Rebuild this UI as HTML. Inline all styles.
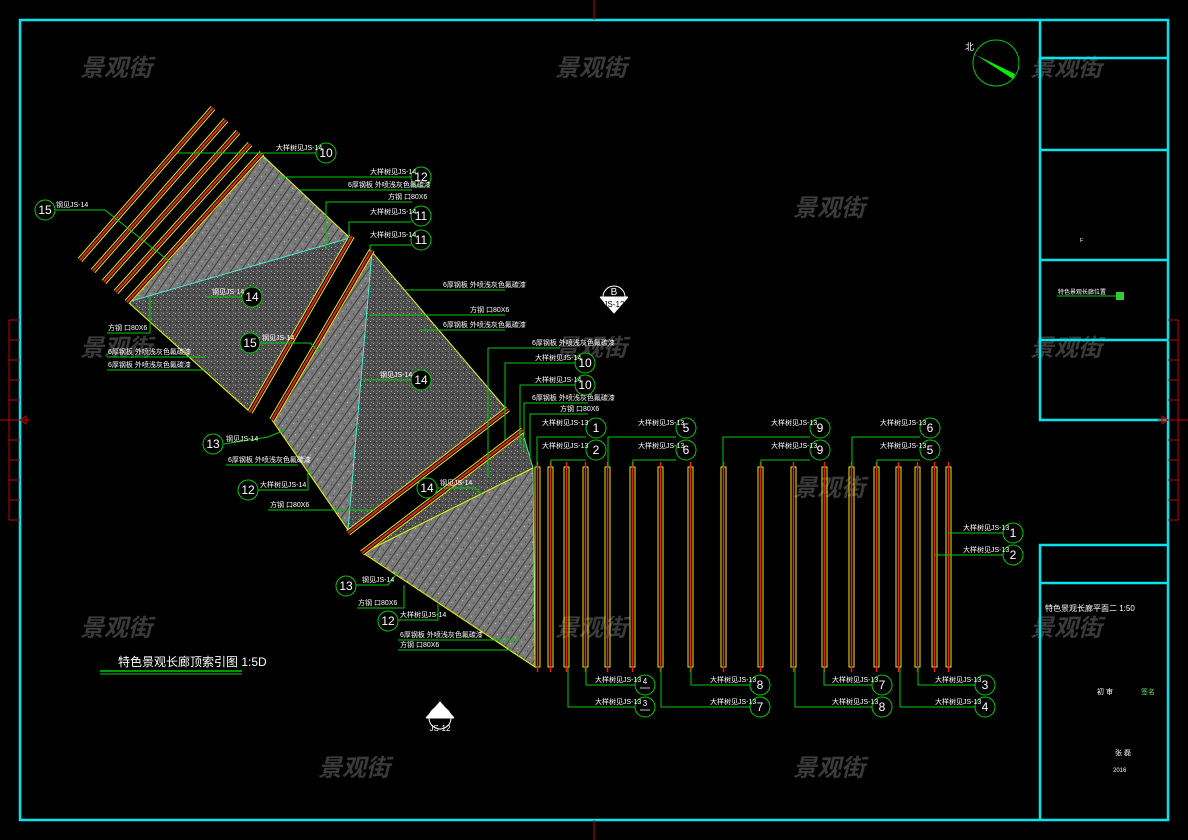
<!DOCTYPE html>
<html><head><meta charset="utf-8"><style>
html,body{margin:0;padding:0;background:#000;}
svg{display:block;}
text{font-family:"Liberation Sans","Noto Sans CJK SC",sans-serif;}
.t{fill:#fff;font-size:7px;}
.n{fill:#fff;font-size:12px;text-anchor:middle;}
.wm{fill:#3a3a3a;font-size:24px;font-style:italic;font-weight:bold;font-family:"Noto Sans CJK SC",sans-serif;}
</style></head><body>
<svg width="1188" height="840" viewBox="0 0 1188 840" xmlns="http://www.w3.org/2000/svg">
<defs>
<pattern id="hat" width="8" height="8" patternUnits="userSpaceOnUse" patternTransform="rotate(35)">
<rect width="8" height="8" fill="#7a7a7a"/><line x1="0" y1="0" x2="0" y2="8" stroke="#2a2a2a" stroke-width="1.5"/>
<rect x="3" y="2" width="1" height="1" fill="#ccc"/><rect x="5" y="6" width="1" height="1" fill="#333"/></pattern>
<pattern id="dot" width="6" height="6" patternUnits="userSpaceOnUse">
<rect width="6" height="6" fill="#4e4e4e"/><rect x="1" y="1" width="1" height="1" fill="#aaa"/><rect x="4" y="3" width="1" height="1" fill="#999"/><rect x="2" y="4" width="1" height="1" fill="#222"/><rect x="5" y="0" width="1" height="1" fill="#888"/></pattern>
</defs>
<rect width="1188" height="840" fill="#000"/>
<!-- watermarks -->
<g class="wm">
<text x="80" y="76">景观街</text><text x="555" y="76">景观街</text><text x="1030" y="76">景观街</text>
<text x="793" y="216">景观街</text><text x="80" y="356">景观街</text><text x="555" y="356">景观街</text><text x="1030" y="356">景观街</text>
<text x="793" y="496">景观街</text><text x="80" y="636">景观街</text><text x="555" y="636">景观街</text><text x="1030" y="636">景观街</text>
<text x="318" y="776">景观街</text><text x="793" y="776">景观街</text>
</g>
<!-- frame -->
<g stroke="#00e5ee" stroke-width="2.5" fill="none">
<rect x="20" y="20" width="1148" height="800"/>
<polyline points="1040,20 1040,420 1168,420"/>
<line x1="1040" y1="58" x2="1168" y2="58"/><line x1="1040" y1="150" x2="1168" y2="150"/>
<line x1="1040" y1="260" x2="1168" y2="260"/><line x1="1040" y1="340" x2="1168" y2="340"/>
<polyline points="1168,545 1040,545 1040,820"/><line x1="1040" y1="583" x2="1168" y2="583"/>
</g>
<!-- red ticks -->
<g stroke="#c00" stroke-width="1" fill="none">
<line x1="9" y1="320" x2="9" y2="520"/><line x1="1178" y1="320" x2="1178" y2="520"/>
<path d="M9 320h11M9 340h11M9 360h11M9 380h11M9 400h11M9 440h11M9 460h11M9 480h11M9 500h11M9 520h11M0 420h30"/>
<path d="M1168 320h10M1168 340h10M1168 360h10M1168 380h10M1168 400h10M1168 440h10M1168 460h10M1168 480h10M1168 500h10M1168 520h10M1158 420h30"/>
<line x1="594" y1="0" x2="594" y2="20"/><line x1="594" y1="820" x2="594" y2="840"/>
<path d="M20 420l6-4v8z"/><path d="M1168 420l-6-4v8z"/>
</g>
<!-- panels -->
<g stroke="#4fd" stroke-width="0.8">
<polygon points="262,155 350,238 128,302" fill="url(#hat)"/>
<polygon points="128,302 350,238 250,412" fill="url(#dot)"/>
<polygon points="372,252 272,420 348,530" fill="url(#hat)"/>
<polygon points="372,252 507,410 348,530" fill="url(#dot)"/>
<polygon points="363,553 522,430 533,468" fill="url(#dot)"/>
<polygon points="363,553 533,468 535,667" fill="url(#hat)"/>
</g>
<g stroke="#ee0" stroke-width="1" fill="none">
<polyline points="262,155 350,238"/><polyline points="128,302 250,412"/>
<polyline points="372,252 507,410"/><polyline points="272,420 348,530"/>
<polyline points="363,553 533,468"/><polyline points="363,553 535,667"/>
</g>
<!-- beams -->
<g stroke-linecap="butt">
<g stroke="#ee0" stroke-width="6">
<line x1="80" y1="260" x2="213" y2="108"/><line x1="93" y1="271" x2="226" y2="120"/><line x1="104" y1="282" x2="238" y2="132"/><line x1="116" y1="292" x2="250" y2="144"/><line x1="127" y1="302" x2="262" y2="153"/>
<line x1="250" y1="412" x2="352" y2="236"/><line x1="272" y1="420" x2="372" y2="250"/>
<line x1="348" y1="533" x2="508" y2="409"/><line x1="362" y1="553" x2="523" y2="430"/>
</g>
<g stroke="#000" stroke-width="4">
<line x1="80" y1="260" x2="213" y2="108"/><line x1="93" y1="271" x2="226" y2="120"/><line x1="104" y1="282" x2="238" y2="132"/><line x1="116" y1="292" x2="250" y2="144"/><line x1="127" y1="302" x2="262" y2="153"/>
<line x1="250" y1="412" x2="352" y2="236"/><line x1="272" y1="420" x2="372" y2="250"/>
<line x1="348" y1="533" x2="508" y2="409"/><line x1="362" y1="553" x2="523" y2="430"/>
</g>
<g stroke="#d22" stroke-width="2">
<line x1="80" y1="260" x2="213" y2="108"/><line x1="93" y1="271" x2="226" y2="120"/><line x1="104" y1="282" x2="238" y2="132"/><line x1="116" y1="292" x2="250" y2="144"/><line x1="127" y1="302" x2="262" y2="153"/>
<line x1="250" y1="412" x2="352" y2="236"/><line x1="272" y1="420" x2="372" y2="250"/>
<line x1="348" y1="533" x2="508" y2="409"/><line x1="362" y1="553" x2="523" y2="430"/>
</g>
</g>
<!-- vertical bars -->
<g id="bars">
<g fill="none" stroke="#ee0" stroke-width="1">
<rect x="535" y="467" width="5" height="200"/><rect x="548" y="467" width="5" height="200"/><rect x="564" y="467" width="5" height="200"/><rect x="583" y="467" width="5" height="200"/><rect x="605" y="467" width="5" height="200"/><rect x="630" y="467" width="5" height="200"/><rect x="658" y="467" width="5" height="200"/><rect x="688" y="467" width="5" height="200"/><rect x="721" y="467" width="5" height="200"/><rect x="758" y="467" width="5" height="200"/><rect x="791" y="467" width="5" height="200"/><rect x="822" y="467" width="5" height="200"/><rect x="849" y="467" width="5" height="200"/><rect x="874" y="467" width="5" height="200"/><rect x="896" y="467" width="5" height="200"/><rect x="915" y="467" width="5" height="200"/><rect x="932" y="467" width="5" height="200"/><rect x="946" y="467" width="5" height="200"/>
</g>
<g stroke="#d22" stroke-width="1.5">
<path d="M537.5 462v210M550.5 462v210M566.5 462v210M585.5 462v210M607.5 462v210M632.5 462v210M660.5 462v210M690.5 462v210M723.5 462v210M760.5 462v210M793.5 462v210M824.5 462v210M851.5 462v210M876.5 462v210M898.5 462v210M917.5 462v210M934.5 462v210M948.5 462v210"/>
</g>
</g>
<!-- leaders -->
<g stroke="#0c0" stroke-width="1" fill="none">
<!-- top bar labels -->
<polyline points="537,467 537,437 586,437"/><polyline points="551,467 551,460 586,460"/>
<polyline points="608,467 608,437 676,437"/><polyline points="633,467 633,460 676,460"/>
<polyline points="723,467 723,437 810,437"/><polyline points="761,467 761,460 810,460"/>
<polyline points="852,467 852,437 920,437"/><polyline points="877,467 877,460 920,460"/>
<polyline points="948,533 1003,533"/><polyline points="935,555 1003,555"/>
<polyline points="586,667 586,685 635,685"/><polyline points="568,667 568,707 635,707"/>
<polyline points="691,667 691,685 750,685"/><polyline points="661,667 661,707 750,707"/>
<polyline points="824,667 824,685 872,685"/><polyline points="795,667 795,707 872,707"/>
<polyline points="918,667 918,685 975,685"/><polyline points="900,667 900,707 975,707"/>
<!-- left -->
<polyline points="177,153 316,153"/><polyline points="280,177 411,177"/><polyline points="300,190 412,190"/>
<polyline points="326,250 326,202 412,202"/><polyline points="349,238 349,222 411,222"/><polyline points="370,252 370,245 411,245"/>
<polyline points="55,210 105,210 170,262"/><polyline points="205,297 242,297"/>
<polyline points="150,296 150,333 107,333"/><polyline points="107,357 205,357"/><polyline points="107,370 205,370"/>
<polyline points="260,343 310,343 320,352"/>
<polyline points="405,290 505,290"/><polyline points="370,315 505,315"/><polyline points="420,330 505,330"/>
<polyline points="363,380 411,380"/>
<polyline points="488,478 488,348 560,348"/><polyline points="505,440 505,363 575,363"/><polyline points="520,445 520,385 575,385"/>
<polyline points="524,452 524,403 588,403"/><polyline points="530,460 530,414 588,414"/>
<polyline points="224,444 268,437 285,430"/><polyline points="226,465 298,465"/>
<polyline points="258,490 308,490 308,468"/><polyline points="268,510 375,510"/>
<polyline points="437,488 475,488 482,495"/>
<polyline points="356,585 388,585 398,572"/><polyline points="357,608 404,608 404,585"/>
<polyline points="398,620 438,620 438,604"/><polyline points="398,640 520,640"/><polyline points="398,650 512,650"/>
</g>
<!-- circles -->
<g stroke="#0c0" stroke-width="1" fill="#000">
<circle cx="596" cy="428" r="10"/><circle cx="596" cy="450" r="10"/><circle cx="686" cy="428" r="10"/><circle cx="686" cy="450" r="10"/>
<circle cx="820" cy="428" r="10"/><circle cx="820" cy="450" r="10"/><circle cx="930" cy="428" r="10"/><circle cx="930" cy="450" r="10"/>
<circle cx="1013" cy="533" r="10"/><circle cx="1013" cy="555" r="10"/>
<circle cx="645" cy="685" r="10"/><circle cx="645" cy="707" r="10"/><circle cx="760" cy="685" r="10"/><circle cx="760" cy="707" r="10"/>
<circle cx="882" cy="685" r="10"/><circle cx="882" cy="707" r="10"/><circle cx="985" cy="685" r="10"/><circle cx="985" cy="707" r="10"/>
<circle cx="326" cy="153" r="10"/><circle cx="421" cy="177" r="10"/><circle cx="421" cy="216" r="10"/><circle cx="421" cy="240" r="10"/>
<circle cx="45" cy="210" r="10"/><circle cx="252" cy="297" r="10"/><circle cx="250" cy="343" r="10"/><circle cx="421" cy="380" r="10"/>
<circle cx="585" cy="363" r="10"/><circle cx="585" cy="385" r="10"/>
<circle cx="213" cy="444" r="10"/><circle cx="248" cy="490" r="10"/><circle cx="427" cy="488" r="10"/>
<circle cx="346" cy="586" r="10"/><circle cx="388" cy="621" r="10"/>
</g>
<g class="n">
<text x="596" y="432">1</text><text x="596" y="454">2</text><text x="686" y="432">5</text><text x="686" y="454">6</text>
<text x="820" y="432">9</text><text x="820" y="454">9</text><text x="930" y="432">6</text><text x="930" y="454">5</text>
<text x="1013" y="537">1</text><text x="1013" y="559">2</text>
<text x="645" y="684" style="font-size:8px">4</text><text x="645" y="706" style="font-size:8px">3</text>
<text x="760" y="689">8</text><text x="760" y="711">7</text><text x="882" y="689">7</text><text x="882" y="711">8</text>
<text x="985" y="689">3</text><text x="985" y="711">4</text>
<text x="326" y="157">10</text><text x="421" y="181">12</text><text x="421" y="220">11</text><text x="421" y="244">11</text>
<text x="45" y="214">15</text><text x="252" y="301">14</text><text x="250" y="347">15</text><text x="421" y="384">14</text>
<text x="585" y="367">10</text><text x="585" y="389">10</text>
<text x="213" y="448">13</text><text x="248" y="494">12</text><text x="427" y="492">14</text>
<text x="346" y="590">13</text><text x="388" y="625">12</text>
</g>
<g stroke="#fff" stroke-width="0.8"><path d="M640 688h10M640 710h10"/></g>
<!-- label texts -->
<g class="t">
<text x="542" y="425">大样树见JS-13</text><text x="542" y="448">大样树见JS-13</text>
<text x="638" y="425">大样树见JS-13</text><text x="638" y="448">大样树见JS-13</text>
<text x="771" y="425">大样树见JS-13</text><text x="771" y="448">大样树见JS-13</text>
<text x="880" y="425">大样树见JS-13</text><text x="880" y="448">大样树见JS-13</text>
<text x="963" y="530">大样树见JS-13</text><text x="963" y="552">大样树见JS-13</text>
<text x="595" y="682">大样树见JS-13</text><text x="595" y="704">大样树见JS-13</text>
<text x="710" y="682">大样树见JS-13</text><text x="710" y="704">大样树见JS-13</text>
<text x="832" y="682">大样树见JS-13</text><text x="832" y="704">大样树见JS-13</text>
<text x="935" y="682">大样树见JS-13</text><text x="935" y="704">大样树见JS-13</text>
<text x="276" y="150">大样树见JS-14</text><text x="370" y="174">大样树见JS-14</text>
<text x="348" y="187">6厚钢板 外喷浅灰色氟碳漆</text><text x="388" y="199">方钢 口80X6</text>
<text x="370" y="214">大样树见JS-14</text><text x="370" y="237">大样树见JS-14</text>
<text x="56" y="207">钢见JS-14</text><text x="212" y="294">钢见JS-14</text>
<text x="108" y="330">方钢 口80X6</text><text x="108" y="354">6厚钢板 外喷浅灰色氟碳漆</text><text x="108" y="367">6厚钢板 外喷浅灰色氟碳漆</text>
<text x="262" y="340">钢见JS-14</text>
<text x="443" y="287">6厚钢板 外喷浅灰色氟碳漆</text><text x="470" y="312">方钢 口80X6</text><text x="443" y="327">6厚钢板 外喷浅灰色氟碳漆</text>
<text x="380" y="377">钢见JS-14</text>
<text x="532" y="345">6厚钢板 外喷浅灰色氟碳漆</text><text x="535" y="360">大样树见JS-14</text><text x="535" y="382">大样树见JS-14</text>
<text x="532" y="400">6厚钢板 外喷浅灰色氟碳漆</text><text x="560" y="411">方钢 口80X6</text>
<text x="226" y="441">钢见JS-14</text><text x="228" y="462">6厚钢板 外喷浅灰色氟碳漆</text>
<text x="260" y="487">大样树见JS-14</text><text x="270" y="507">方钢 口80X6</text>
<text x="440" y="485">钢见JS-14</text>
<text x="362" y="582">钢见JS-14</text><text x="358" y="605">方钢 口80X6</text>
<text x="400" y="617">大样树见JS-14</text><text x="400" y="637">6厚钢板 外喷浅灰色氟碳漆</text><text x="400" y="647">方钢 口80X6</text>
</g>
<!-- title -->
<text x="118" y="666" style="fill:#fff;font-size:12px;">特色景观长廊顶索引图 1:5D</text>
<line x1="100" y1="671" x2="242" y2="671" stroke="#0c0" stroke-width="1.5"/><line x1="100" y1="674" x2="242" y2="674" stroke="#0c0" stroke-width="1"/>
<!-- section markers -->
<g stroke="#fff" stroke-width="1" fill="none">
<circle cx="614" cy="297" r="11"/><line x1="600" y1="297" x2="628" y2="297"/>
<path d="M600 297 L614 313 L628 297" fill="#fff"/>
<circle cx="440" cy="718" r="11"/><line x1="426" y1="718" x2="454" y2="718"/>
<path d="M426 718 L440 702 L454 718" fill="#fff"/>
</g>
<text x="614" y="295" class="n" style="font-size:10px">B</text>
<text x="614" y="307" style="fill:#000;font-size:8px;text-anchor:middle">JS-12</text>
<text x="440" y="727" class="n" style="font-size:10px;fill:#000">A</text>
<text x="440" y="731" style="fill:#fff;font-size:8px;text-anchor:middle">JS-12</text>
<!-- north -->
<circle cx="996" cy="63" r="23" fill="none" stroke="#0c0" stroke-width="1"/>
<polygon points="976,55 1015,74 1013,79" fill="#0e0"/>
<text x="965" y="50" style="fill:#fff;font-size:9px">北</text>
<!-- title block text -->
<text x="1080" y="242" style="fill:#fff;font-size:5px">F</text>
<line x1="1057" y1="296" x2="1116" y2="296" stroke="#0c0" stroke-width="1"/>
<rect x="1116" y="292" width="8" height="8" fill="#3c3"/>
<text x="1058" y="294" style="fill:#fff;font-size:6px">特色景观长廊位置</text>
<text x="1045" y="611" style="fill:#fff;font-size:8px">特色景观长廊平面二    1:50</text>
<text x="1097" y="694" style="fill:#fff;font-size:7px">初 审</text>
<text x="1141" y="694" style="fill:#6d6;font-size:7px">签名</text>
<text x="1115" y="755" style="fill:#fff;font-size:7px">张 磊</text>
<text x="1113" y="772" style="fill:#fff;font-size:6px">2016</text>
</svg>
</body></html>
